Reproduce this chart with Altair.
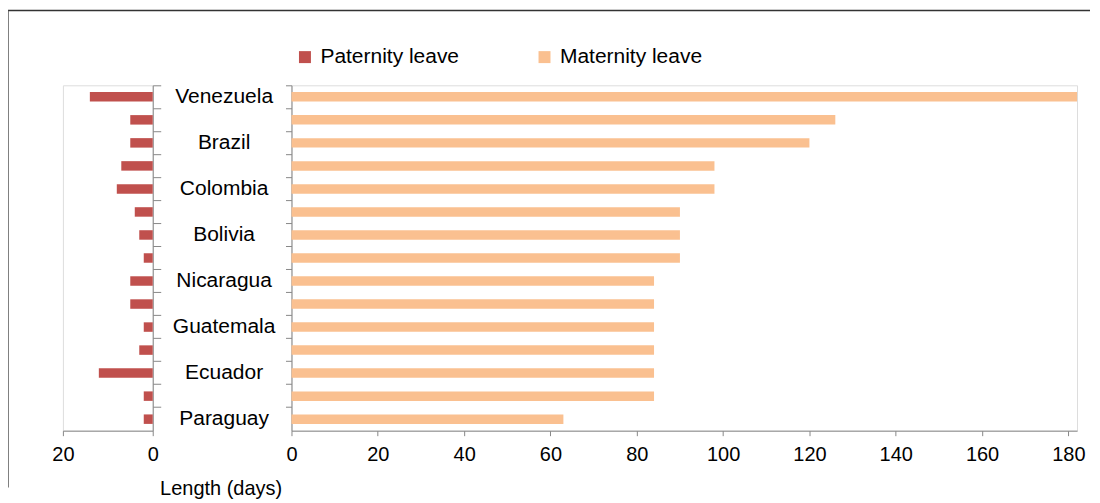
import json
import altair as alt
import pandas as pd

countries = ["Venezuela", "Chile", "Brazil", "Uruguay", "Colombia", "Peru", "Bolivia",
             "Argentina", "Nicaragua", "Mexico", "Guatemala", "El Salvador", "Ecuador",
             "Dominican Republic", "Paraguay"]
shown_labels = ["Venezuela", "Brazil", "Colombia", "Bolivia", "Nicaragua", "Guatemala",
                "Ecuador", "Paraguay"]
paternity = [14, 5, 5, 7, 8, 4, 3, 2, 5, 5, 2, 3, 12, 2, 2]
maternity = [182, 126, 120, 98, 98, 90, 90, 90, 84, 84, 84, 84, 84, 84, 63]
series_names = ["Paternity leave", "Maternity leave"]
series_colors = ["#C0504D", "#FAC090"]

pat_df = pd.DataFrame({"country": countries, "days": paternity, "series": series_names[0]})
mat_df = pd.DataFrame({"country": countries, "days": maternity, "series": series_names[1]})

FONT = "Liberation Sans"
AX = "#a0a0a0"
H = 346

color = alt.Color(
    "series:N",
    scale=alt.Scale(domain=series_names, range=series_colors),
    legend=alt.Legend(
        title=None, orient="none", legendX=232, legendY=-39, direction="horizontal",
        symbolType="square", symbolSize=144, symbolStrokeWidth=0,
        labelFontSize=21, labelFont=FONT, labelColor="#000000",
        columnPadding=75, labelOffset=5,
    ),
)

yscale = alt.Scale(domain=countries, paddingInner=0, paddingOuter=0)

left_bars = alt.Chart(pat_df).mark_bar(height=9.5).encode(
    x=alt.X("days:Q", scale=alt.Scale(domain=[0, 20], reverse=True),
            axis=alt.Axis(values=[0, 20], title="Length (days)", titleX=158, titleY=48,
                          titleBaseline="top", titleFontSize=20, titleFontWeight="normal",
                          titleFont=FONT, titleColor="#000000", grid=False, labelFlush=False,
                          tickSize=5, labelPadding=9, labelFontSize=20)),
    y=alt.Y("country:N", scale=yscale, sort=countries,
            axis=alt.Axis(orient="right", labels=False, title=None, tickSize=8,
                          bandPosition=0, grid=False)),
    color=color,
)

frame_df = pd.DataFrame({"k": [0]})
top_line = alt.Chart(frame_df).mark_rule(color="#333333", strokeWidth=1.5).encode(
    x=alt.value(-55), x2=alt.value(1029), y=alt.value(-75), y2=alt.value(-75))
left_line = alt.Chart(frame_df).mark_rule(color="#555555", strokeWidth=1.5).encode(
    x=alt.value(-55), x2=alt.value(-55), y=alt.value(-75), y2=alt.value(403))

left = alt.layer(top_line, left_line, left_bars).properties(width=90, height=H)

label_expr = "indexof(" + json.dumps(shown_labels) + ", datum.value) >= 0 ? datum.value : ''"

right = alt.Chart(mat_df).mark_bar(height=9.5).encode(
    x=alt.X("days:Q", scale=alt.Scale(domain=[0, 182], nice=False),
            axis=alt.Axis(values=list(range(0, 181, 20)), title=None, tickSize=5,
                          labelPadding=9, labelFontSize=20, grid=False, labelFlush=False)),
    y=alt.Y("country:N", scale=yscale, sort=countries,
            axis=alt.Axis(orient="left", title=None, tickSize=6, bandPosition=0, grid=False,
                          labelExpr=label_expr, labelAlign="center", labelPadding=62,
                          labelFontSize=21, labelBaseline="middle")),
    color=color,
).properties(width=787, height=H)

chart = alt.hconcat(left, right, spacing=139, bounds="flush").properties(
    padding={"left": -2, "top": 0, "right": 0, "bottom": 0}
).configure_view(stroke=None).configure_axis(
    grid=False, domainColor=AX, tickColor=AX, domainWidth=1.5, tickWidth=1.5,
    labelFont=FONT, labelColor="#000000",
).configure(font=FONT)

chart.save("out.html", embed_options={"renderer": "svg", "actions": False})
